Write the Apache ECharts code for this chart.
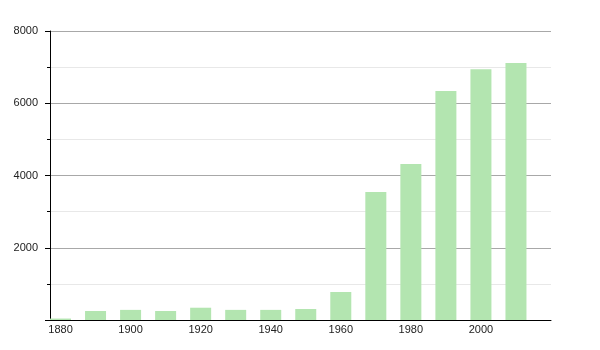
<!DOCTYPE html>
<html>
<head>
<meta charset="utf-8">
<script src="https://cdn.jsdelivr.net/npm/echarts@6/dist/echarts.min.js"></script>
<style>html,body{margin:0;padding:0;background:#fff}#c{width:600px;height:350px}</style>
</head>
<body>
<div id="c"></div>
<script>
var years = [1880, 1890, 1900, 1910, 1920, 1930, 1940, 1950, 1960, 1970, 1980, 1990, 2000, 2010];
var population = [40, 250, 280, 250, 340, 280, 280, 305, 775, 3545, 4320, 6340, 6940, 7115];
var xTickLabels = [1880, 1900, 1920, 1940, 1960, 1980, 2000];
var yTickLabels = [2000, 4000, 6000, 8000];

var chart = echarts.init(document.getElementById('c'), null, {renderer: 'canvas'});
var data = years.map(function (y, i) { return [y, population[i]]; });
chart.setOption({
  animation: false,
  backgroundColor: '#fff',
  grid: {left: 50, right: 49, top: 31, bottom: 30, containLabel: false},
  xAxis: {
    type: 'value', min: 1877, max: 2020,
    axisLine: {show: true, onZero: false, lineStyle: {color: '#000', width: 1}},
    axisTick: {show: false},
    splitLine: {show: false},
    axisLabel: {
      customValues: xTickLabels,
      color: '#222', fontSize: 11, fontFamily: 'Liberation Sans, Arial, sans-serif', margin: 4,
      formatter: function (v) { return String(v); }
    }
  },
  yAxis: {
    type: 'value', min: 0, max: 8000, interval: 2000,
    axisLine: {show: true, lineStyle: {color: '#000', width: 1}},
    axisTick: {show: true, length: 5, lineStyle: {color: '#000'}},
    minorTick: {show: true, splitNumber: 2, length: 3, lineStyle: {color: '#000'}},
    splitLine: {show: true, lineStyle: {color: '#a8a8a8', width: 1}},
    minorSplitLine: {show: true, lineStyle: {color: '#e8e8e8', width: 1}},
    axisLabel: {
      color: '#222', fontSize: 11, fontFamily: 'Liberation Sans, Arial, sans-serif', margin: 12,
      formatter: function (v) { return yTickLabels.indexOf(v) >= 0 ? String(v) : ''; }
    }
  },
  series: [{
    type: 'bar',
    data: data,
    barWidth: 21,
    itemStyle: {color: '#b3e5b0'}
  }]
});
</script>
</body>
</html>
